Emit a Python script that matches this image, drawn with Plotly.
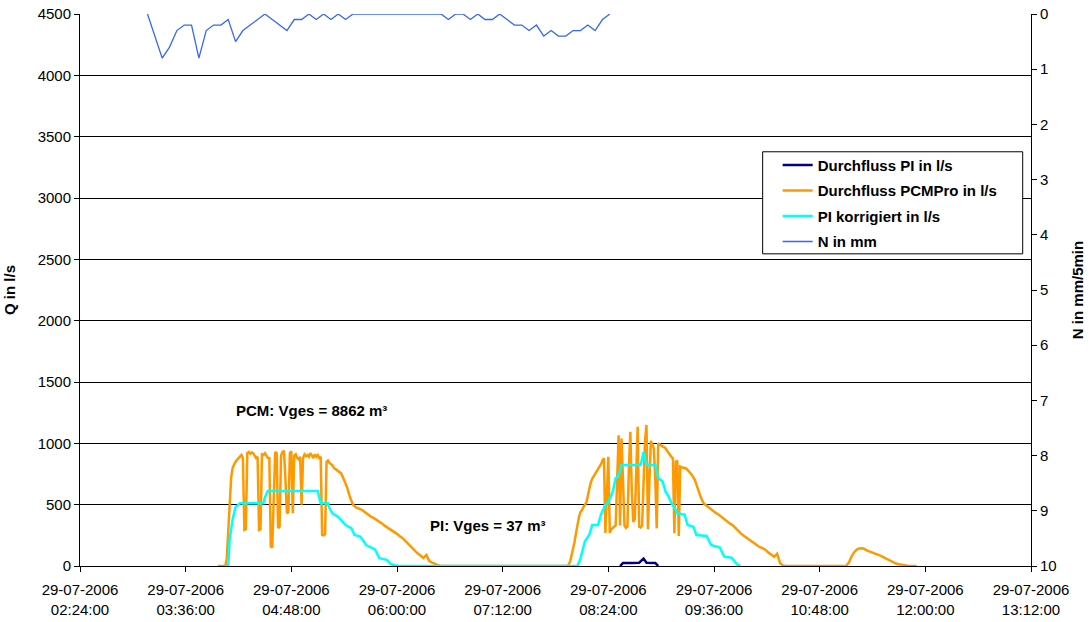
import pandas as pd
import plotly.graph_objects as go

DAY = "2006-07-29 "

# ---------------- data ----------------
# Durchfluss PCMPro in l/s (segments: start time, step in minutes, values)
pcm_seg1_start, pcm_seg1_step = "03:58", 1
pcm_seg1 = [0, 0, 0, 0, 0, 0, 60, 250, 500, 720, 800, 830, 850, 865, 880, 890, 905, 880, 295, 300,
            920, 930, 915, 925, 920, 900, 880, 890, 294, 300, 910, 905, 920, 900, 880, 880, 160, 150,
            600, 930, 920, 310, 320, 900, 930, 940, 700, 430, 440, 920, 935, 430, 900, 910, 880, 870,
            890, 500, 880, 910, 895, 905, 890, 920, 900, 880, 910, 890, 905, 880, 890, 253, 250, 260,
            850, 860, 840, 830, 820, 800, 790, 785, 775]
pcm_seg2_start, pcm_seg2_step = "05:22", 2
pcm_seg2 = [755, 700, 640, 560, 500, 478, 468, 458, 440, 420, 405, 392, 378, 362, 345, 325, 310, 295,
            280, 262, 242, 225, 200, 175, 150, 125, 103, 85, 65, 90, 40, 28, 15, 6, 0]
pcm_seg3_start, pcm_seg3_step = "07:54", 1
pcm_seg3 = [0, 0, 0, 10, 40, 90, 140, 198, 270, 340, 400, 440, 455, 480, 500, 515, 570, 640, 680, 710,
            730, 750, 765, 785, 800, 830, 860, 880, 270, 600, 890, 270, 300, 310, 320, 330, 700, 1065,
            330, 1040, 700, 330, 310, 320, 800, 1095, 600, 360, 380, 800, 1135, 320, 315, 330, 700,
            1020, 1150, 300, 700, 1020, 990, 960, 700, 307, 1000, 995, 985, 975, 965, 960, 940, 920,
            905, 890, 878, 267, 850, 860, 245, 810, 805, 800]
pcm_seg4_start, pcm_seg4_step = "09:17", 2
pcm_seg4 = [795, 770, 740, 700, 620, 560, 510, 490, 470, 450, 435, 420, 400, 385, 365, 345, 330, 305,
            280, 258, 240, 222, 208, 193, 170, 155, 145, 133, 110, 90, 75, 100, 25, 5, 0]
pcm_seg5_start, pcm_seg5_step = "11:04", 2
pcm_seg5 = [0, 0, 30, 85, 120, 140, 145, 142, 128, 117, 108, 100, 90, 80, 68, 52, 38, 28, 20, 14, 9,
            5, 3, 1, 0, 0]

# PI korrigiert in l/s
pik_times = ["04:03", "04:05", "04:06", "04:08", "04:10", "04:12", "04:13", "04:29", "04:30", "04:32",
             "05:06", "05:08", "05:13", "05:14", "05:16", "05:20", "05:22", "05:25", "05:29", "05:31",
             "05:35", "05:37", "05:39", "05:45", "05:48", "05:53", "05:56", "06:01",
             "08:03", "08:05", "08:06", "08:08", "08:11", "08:13", "08:17", "08:19", "08:22", "08:24",
             "08:27", "08:29", "08:31", "08:33", "08:46", "08:48", "08:50", "08:56", "08:58", "09:01",
             "09:03", "09:05", "09:07", "09:09", "09:11", "09:16", "09:18", "09:22", "09:24", "09:31",
             "09:34", "09:40", "09:43", "09:48", "09:52", "09:54"]
pik_vals = [0, 0, 220, 380, 480, 505, 511, 511, 560, 612,
            612, 511, 511, 470, 430, 400, 370, 334, 307, 253,
            240, 200, 171, 135, 63, 50, 14, 0,
            0, 60, 100, 200, 253, 334, 334, 420, 497, 520,
            606, 715, 735, 824, 824, 930, 824, 824, 715, 690,
            606, 570, 511, 480, 430, 420, 334, 320, 253, 245,
            171, 150, 76, 68, 10, 0]

# Durchfluss PI in l/s
pi_times = ["08:32", "08:34", "08:40", "08:45", "08:48", "08:50", "08:56", "08:58"]
pi_vals = [0, 25, 25, 27, 60, 27, 25, 0]

# N in mm per 5 min
n_start, n_step = "03:10", 5
n_vals = [0, 0.4, 0.8, 0.6, 0.3, 0.2, 0.2, 0.8, 0.3, 0.2, 0.2, 0.1, 0.5, 0.3, 0.2, 0.1, 0,
          0.1, 0.2, 0.3, 0.1, 0.1, 0, 0.1, 0, 0.1, 0, 0.1, 0, 0, 0, 0, 0, 0, 0, 0, 0, 0, 0, 0, 0,
          0.1, 0, 0, 0.1, 0, 0.1, 0.1, 0, 0.1, 0.2, 0.2, 0.3, 0.2, 0.4, 0.3, 0.4, 0.4, 0.3, 0.3,
          0.2, 0.3, 0.1, 0]

x_ticks = ["02:24", "03:36", "04:48", "06:00", "07:12", "08:24", "09:36", "10:48", "12:00", "13:12"]
q_ticks = [0, 500, 1000, 1500, 2000, 2500, 3000, 3500, 4000, 4500]
n_ticks = [0, 1, 2, 3, 4, 5, 6, 7, 8, 9, 10]


def seg(start, step, vals):
    base = pd.Timestamp(DAY + start)
    return [base + pd.Timedelta(minutes=step * i) for i in range(len(vals))]


def ts(lst):
    return [pd.Timestamp(DAY + t) for t in lst]


pcm_x, pcm_y = [], []
for s, st, v in [(pcm_seg1_start, pcm_seg1_step, pcm_seg1), (pcm_seg2_start, pcm_seg2_step, pcm_seg2),
                 (pcm_seg3_start, pcm_seg3_step, pcm_seg3), (pcm_seg4_start, pcm_seg4_step, pcm_seg4),
                 (pcm_seg5_start, pcm_seg5_step, pcm_seg5)]:
    pcm_x += seg(s, st, v)
    pcm_y += v

FONT = "Liberation Sans, Arial, sans-serif"

fig = go.Figure()
fig.add_trace(go.Scatter(x=ts(pi_times), y=pi_vals, mode="lines", name="Durchfluss PI in l/s",
                         legendgroup="a", line=dict(color="#000080", width=2.5)))
fig.add_trace(go.Scatter(x=pcm_x, y=pcm_y, mode="lines", name="Durchfluss PCMPro in l/s",
                         legendgroup="b", line=dict(color="#FF9900", width=2.5)))
fig.add_trace(go.Scatter(x=ts(pik_times), y=pik_vals, mode="lines", name="PI korrigiert in l/s",
                         legendgroup="c", line=dict(color="#00FFFF", width=2.5)))
fig.add_trace(go.Scatter(x=seg(n_start, n_step, n_vals), y=n_vals, mode="lines", name="N in mm",
                         legendgroup="d", line=dict(color="#3366FF", width=1.3), yaxis="y2"))

fig.add_annotation(x=pd.Timestamp(DAY + "05:01:30"), y=1264, text="PCM: Vges = 8862 m³",
                   showarrow=False, font=dict(family=FONT, size=15, color="black", weight="bold"))
fig.add_annotation(x=pd.Timestamp(DAY + "07:01:40"), y=334, text="PI: Vges = 37 m³",
                   showarrow=False, font=dict(family=FONT, size=15, color="black", weight="bold"))

# legend frame
fig.add_shape(type="rect", xref="paper", yref="paper",
              x0=(763 - 80.4) / 950.9, x1=(1023 - 80.4) / 950.9,
              y0=(566 - 254) / 551.7, y1=(566 - 152) / 551.7,
              line=dict(color="black", width=1), fillcolor="white", layer="above")

fig.update_layout(
    width=1089, height=622,
    margin=dict(l=80.4, r=57.7, t=14.3, b=56, autoexpand=False),
    paper_bgcolor="white", plot_bgcolor="white",
    font=dict(family=FONT, size=15, color="black"),
    showlegend=True,
    legend=dict(x=(778 - 80.4) / 950.9, y=(566 - 149) / 551.7, xanchor="left", yanchor="top",
                bgcolor="rgba(0,0,0,0)", borderwidth=0, traceorder="grouped", tracegroupgap=3,
                font=dict(family=FONT, size=15, color="black", weight="bold")),
    xaxis=dict(type="date", range=[pd.Timestamp(DAY + "02:24"), pd.Timestamp(DAY + "13:12")],
               tickvals=ts(x_ticks), ticktext=["29-07-2006<br>" + t + ":00" for t in x_ticks],
               showgrid=False, showline=True, linecolor="black", linewidth=1, automargin=False,
               ticks="outside", ticklen=5, tickcolor="black", zeroline=False,
               ticklabelstandoff=5, tickfont=dict(size=15)),
    yaxis=dict(range=[0, 4500], tickvals=q_ticks, ticktext=[str(v) for v in q_ticks],
               showgrid=True, gridcolor="black", gridwidth=1, showline=True, linecolor="black",
               ticks="outside", ticklen=5, tickcolor="black", zeroline=False, automargin=False,
               title=dict(text="<b>Q in l/s</b>", font=dict(size=15), standoff=18),
               tickfont=dict(size=15)),
    yaxis2=dict(range=[10, 0], overlaying="y", side="right", tickvals=n_ticks,
                showgrid=False, showline=True, linecolor="black", ticks="outside", ticklen=5,
                tickcolor="black", zeroline=False, automargin=False,
                title=dict(text="<b>N in mm/5min</b>", font=dict(size=15), standoff=16),
                tickfont=dict(size=15)),
)

fig.write_html("out.html", config={"displayModeBar": False},
               post_script="document.body.style.margin='0';")
